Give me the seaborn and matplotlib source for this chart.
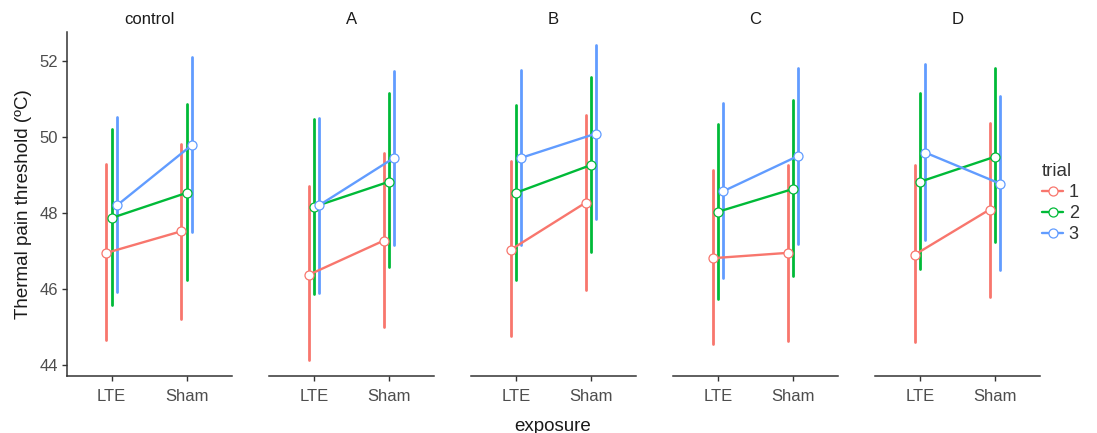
import pandas as pd
import matplotlib.pyplot as plt
import seaborn as sns
from matplotlib.lines import Line2D

# Values (order: control, A, B, C, D; each LTE then Sham)
groups = ["control", "A", "B", "C", "D"]
exposures = ["LTE", "Sham"]
trials = ["1", "2", "3"]

mean_t1 = [46.94, 47.51, 46.36, 47.26, 47.02, 48.26, 46.80, 46.94, 46.89, 48.08]
low_t1 = [44.65, 45.20, 44.12, 44.98, 44.74, 45.97, 44.54, 44.63, 44.60, 45.79]
high_t1 = [49.27, 49.81, 48.69, 49.58, 49.35, 50.57, 49.12, 49.25, 49.24, 50.37]

mean_t2 = [47.86, 48.52, 48.15, 48.81, 48.52, 49.25, 48.02, 48.62, 48.81, 49.47]
low_t2 = [45.57, 46.23, 45.86, 46.56, 46.23, 46.95, 45.73, 46.32, 46.52, 47.23]
high_t2 = [50.19, 50.85, 50.45, 51.14, 50.83, 51.57, 50.32, 50.96, 51.14, 51.80]

mean_t3 = [48.19, 49.78, 48.19, 49.44, 49.44, 50.08, 48.56, 49.49, 49.58, 48.76]
low_t3 = [45.90, 47.49, 45.88, 47.16, 47.16, 47.82, 46.28, 47.18, 47.29, 46.50]
high_t3 = [50.51, 52.10, 50.48, 51.73, 51.75, 52.41, 50.88, 51.80, 51.90, 51.07]

colors = ["#F8766D", "#00BA38", "#619CFF"]

# long table: lower end, mean and upper end of each interval
rows = []
for trial, m, lo, hi in zip(trials, [mean_t1, mean_t2, mean_t3],
                            [low_t1, low_t2, low_t3], [high_t1, high_t2, high_t3]):
    i = 0
    for g in groups:
        for e in exposures:
            for v in (lo[i], m[i], hi[i]):
                rows.append({"group": g, "exposure": e, "trial": trial, "value": v})
            i += 1
df = pd.DataFrame(rows)

sns.set_style("white")
plt.rcParams['font.family'] = ['Liberation Sans', 'DejaVu Sans']

fig, axes = plt.subplots(1, 5, figsize=(10.97, 4.33), dpi=100, sharey=True)
fig.subplots_adjust(left=0.0608, right=0.948, bottom=0.1316, top=0.926, wspace=0.224)

for ax, g in zip(axes, groups):
    sns.pointplot(
        data=df[df["group"] == g], x="exposure", y="value", hue="trial",
        order=exposures, hue_order=trials, palette=colors,
        estimator="median", errorbar=lambda v: (v.min(), v.max()),
        dodge=0.14, markers="o", markersize=6.5, linewidth=1.7,
        markerfacecolor="white", markeredgewidth=0.9, zorder=3,
        err_kws={"linewidth": 2.0, "zorder": 2}, legend=False, ax=ax,
    )
    ax.set_xlim(-0.6, 1.6)
    ax.set_ylim(43.7, 52.75)
    ax.set_title(g, fontsize=12, color="#1a1a1a", pad=6)
    ax.set_xlabel("")
    ax.set_ylabel("")
    for s in ["top", "right"]:
        ax.spines[s].set_visible(False)
    ax.spines["bottom"].set_color("#333333")
    ax.spines["bottom"].set_linewidth(1.1)
    ax.tick_params(axis="x", length=3.5, width=1, color="#333333",
                   labelsize=12, labelcolor="#4D4D4D", pad=6, bottom=True)
    if ax is axes[0]:
        ax.spines["left"].set_color("#333333")
        ax.spines["left"].set_linewidth(1.1)
        ax.set_yticks([44, 46, 48, 50, 52])
        ax.tick_params(axis="y", length=3.5, width=1, color="#333333",
                       labelsize=12, labelcolor="#4D4D4D", pad=3, left=True)
        ax.set_ylabel("Thermal pain threshold (ºC)", fontsize=13.5, color="#1a1a1a", labelpad=5)
    else:
        ax.spines["left"].set_visible(False)
        ax.tick_params(axis="y", left=False, labelleft=False)

fig.text(0.504, 0.016, "exposure", ha="center", va="center", fontsize=13.5, color="#1a1a1a")

handles = [Line2D([0], [0], color=c, lw=1.7, marker="o", markersize=6.5,
                  markerfacecolor="white", markeredgewidth=0.9) for c in colors]
leg = fig.legend(handles, trials, title="trial", loc="upper left",
                 bbox_to_anchor=(0.943, 0.64), frameon=False, fontsize=13,
                 title_fontsize=13.5, handlelength=1.2, handletextpad=0.3,
                 labelspacing=0.22, alignment="left", borderaxespad=0)
for t in leg.get_texts():
    t.set_color("#333333")
leg.get_title().set_color("#333333")

fig.savefig("out.png", dpi=100)
